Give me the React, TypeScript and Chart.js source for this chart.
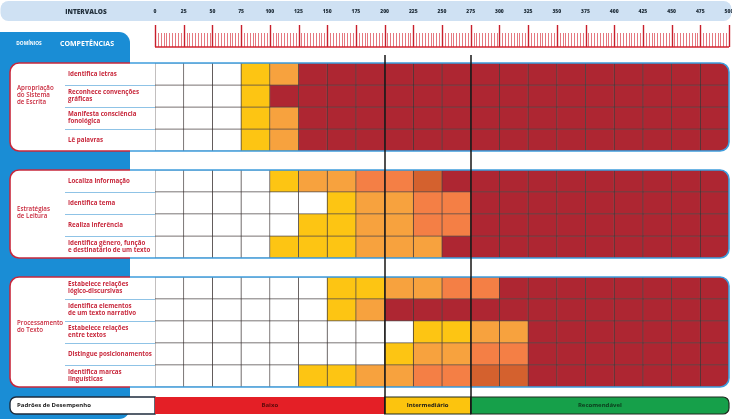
import React, { useEffect, useRef } from 'react';
import { Chart, registerables } from 'chart.js';

Chart.register(...registerables);

// ---------- DATA ----------
const intervalTicks = [0, 25, 50, 75, 100, 125, 150, 175, 200, 225, 250, 275, 300, 325, 350, 375, 400, 425, 450, 475, 500];
const intervalStep = 25;

const domainLabels: string[][] = [
  ['Apropriação', 'do Sistema', 'de Escrita'],
  ['Estratégias', 'de Leitura'],
  ['Processamento', 'do Texto'],
];

const competencias: string[][][] = [
  [['Identifica letras'], ['Reconhece convenções', 'gráficas'], ['Manifesta consciência', 'fonológica'], ['Lê palavras']],
  [['Localiza informação'], ['Identifica tema'], ['Realiza inferência'], ['Identifica gênero, função', 'e destinatário de um texto']],
  [
    ['Estabelece relações', 'lógico-discursivas'],
    ['Identifica elementos', 'de um texto narrativo'],
    ['Estabelece relações', 'entre textos'],
    ['Distingue posicionamentos'],
    ['Identifica marcas', 'linguísticas'],
  ],
];

// level per 25-point interval (0 = none ... 5 = full)
const levelsApropriacao: number[][] = [
  [0, 0, 0, 1, 2, 5, 5, 5, 5, 5, 5, 5, 5, 5, 5, 5, 5, 5, 5, 5],
  [0, 0, 0, 1, 5, 5, 5, 5, 5, 5, 5, 5, 5, 5, 5, 5, 5, 5, 5, 5],
  [0, 0, 0, 1, 2, 5, 5, 5, 5, 5, 5, 5, 5, 5, 5, 5, 5, 5, 5, 5],
  [0, 0, 0, 1, 2, 5, 5, 5, 5, 5, 5, 5, 5, 5, 5, 5, 5, 5, 5, 5],
];
const levelsLeitura: number[][] = [
  [0, 0, 0, 0, 1, 2, 2, 3, 3, 4, 5, 5, 5, 5, 5, 5, 5, 5, 5, 5],
  [0, 0, 0, 0, 0, 0, 1, 2, 2, 3, 3, 5, 5, 5, 5, 5, 5, 5, 5, 5],
  [0, 0, 0, 0, 0, 1, 1, 2, 2, 3, 3, 5, 5, 5, 5, 5, 5, 5, 5, 5],
  [0, 0, 0, 0, 1, 1, 1, 2, 2, 2, 5, 5, 5, 5, 5, 5, 5, 5, 5, 5],
];
const levelsProcessamento: number[][] = [
  [0, 0, 0, 0, 0, 0, 1, 1, 2, 2, 3, 3, 5, 5, 5, 5, 5, 5, 5, 5],
  [0, 0, 0, 0, 0, 0, 1, 2, 5, 5, 5, 5, 5, 5, 5, 5, 5, 5, 5, 5],
  [0, 0, 0, 0, 0, 0, 0, 0, 0, 1, 1, 2, 2, 5, 5, 5, 5, 5, 5, 5],
  [0, 0, 0, 0, 0, 0, 0, 0, 1, 2, 2, 3, 3, 5, 5, 5, 5, 5, 5, 5],
  [0, 0, 0, 0, 0, 1, 1, 2, 2, 3, 3, 4, 4, 5, 5, 5, 5, 5, 5, 5],
];
const sectionLevels = [levelsApropriacao, levelsLeitura, levelsProcessamento];

const padroesTitle = 'Padrões de Desempenho';
const padroes = [
  { label: 'Baixo', from: 0, to: 200 },
  { label: 'Intermediário', from: 200, to: 275 },
  { label: 'Recomendável', from: 275, to: 500 },
];

// ---------- STYLE ----------
const levelColors = ['#ffffff', '#fdc513', '#f7a23e', '#f47f45', '#d4612e', '#ae2632'];
const padroesColors = ['#e41f26', '#fcc40e', '#16a04a'];
const padroesText = ['#5a0a0a', '#1a1a1a', '#0d3a1c'];
const RED = '#c8283c';
const BLUE_PANEL = '#1a8dd5';
const FONT = '"Open Sans", "Noto Sans", sans-serif';
const SECTION_GAP = 0.86; // in row units
const DOMAIN_OFFSET = [-12, -1, -5];

// row positions derived from section structure
const rowPos: number[] = [];
const sectionRows: number[][] = [];
{
  let p = 0;
  sectionLevels.forEach((sec, si) => {
    if (si > 0) p += SECTION_GAP;
    const rows: number[] = [];
    sec.forEach(() => {
      rows.push(p);
      rowPos.push(p);
      p += 1;
    });
    sectionRows.push(rows);
  });
}
const yMin = -0.5;
const yMax = rowPos[rowPos.length - 1] + 0.5;
const allLevels = sectionLevels.flat();
const nCols = allLevels[0].length;

function rr(ctx: CanvasRenderingContext2D, x: number, y: number, w: number, h: number, r: number[]) {
  const [tl, tr, br, bl] = r;
  ctx.beginPath();
  ctx.moveTo(x + tl, y);
  ctx.lineTo(x + w - tr, y);
  if (tr) ctx.arcTo(x + w, y, x + w, y + tr, tr); else ctx.lineTo(x + w, y);
  ctx.lineTo(x + w, y + h - br);
  if (br) ctx.arcTo(x + w, y + h, x + w - br, y + h, br); else ctx.lineTo(x + w, y + h);
  ctx.lineTo(x + bl, y + h);
  if (bl) ctx.arcTo(x, y + h, x, y + h - bl, bl); else ctx.lineTo(x, y + h);
  ctx.lineTo(x, y + tl);
  if (tl) ctx.arcTo(x, y, x + tl, y, tl); else ctx.lineTo(x, y);
  ctx.closePath();
}

function sectionBoxes(chart: any) {
  const y = chart.scales.y;
  const x = chart.scales.x;
  const unit = Math.abs(y.getPixelForValue(1) - y.getPixelForValue(0));
  return sectionRows.map((rows) => {
    const top = y.getPixelForValue(rows[0]) - unit / 2;
    const bottom = y.getPixelForValue(rows[rows.length - 1]) + unit / 2;
    return { top, bottom, left: 10, right: x.getPixelForValue(500), unit };
  });
}

const decor = {
  id: 'decor',
  beforeDraw(chart: any) {
    const ctx: CanvasRenderingContext2D = chart.ctx;
    const x = chart.scales.x;
    const y = chart.scales.y;
    const W = chart.width;
    const H = chart.height;
    ctx.save();
    // header band
    rr(ctx, 0.5, 1, W - 1, 20, [8, 8, 8, 8]);
    ctx.fillStyle = '#cfe1f3';
    ctx.fill();
    ctx.fillStyle = '#22303c';
    ctx.textBaseline = 'middle';
    ctx.textAlign = 'center';
    ctx.font = `800 6.5px ${FONT}`;
    ctx.fillText('INTERVALOS', 86, 12);
    ctx.font = `800 5px ${FONT}`;
    intervalTicks.forEach((v) => ctx.fillText(String(v), x.getPixelForValue(v), 12));

    // ruler
    const x0 = x.getPixelForValue(intervalTicks[0]);
    const x1 = x.getPixelForValue(intervalTicks[intervalTicks.length - 1]);
    for (let v = intervalTicks[0]; v <= intervalTicks[intervalTicks.length - 1] + 0.001; v += intervalStep / 10) {
      const px = Math.round(x.getPixelForValue(v)) + 0.5;
      const major = Math.abs(v / intervalStep - Math.round(v / intervalStep)) < 0.001;
      ctx.lineWidth = major ? 1.4 : 0.8;
      ctx.strokeStyle = major ? '#c81e2b' : '#de5560';
      ctx.beginPath();
      ctx.moveTo(px, major ? 25 : 33);
      ctx.lineTo(px, 47);
      ctx.stroke();
    }
    ctx.strokeStyle = '#d2232f';
    ctx.lineWidth = 1.5;
    ctx.beginPath();
    ctx.moveTo(x0, 47);
    ctx.lineTo(x1, 47);
    ctx.stroke();

    // blue left panel
    rr(ctx, 0, 32, 130, H - 32, [0, 11, 11, 0]);
    ctx.fillStyle = BLUE_PANEL;
    ctx.fill();
    ctx.fillStyle = '#ffffff';
    ctx.font = `700 4.8px ${FONT}`;
    ctx.fillText('DOMÍNIOS', 29, 44);
    ctx.font = `700 7px ${FONT}`;
    ctx.fillText('COMPETÊNCIAS', 87, 44);

    // section white boxes
    const boxes = sectionBoxes(chart);
    boxes.forEach((b) => {
      rr(ctx, b.left, b.top, b.right - b.left, b.bottom - b.top, [9, 9, 9, 9]);
      ctx.fillStyle = '#ffffff';
      ctx.fill();
    });

    // labels
    boxes.forEach((b, si) => {
      const lines = domainLabels[si];
      const lh = 7;
      const cy = (b.top + b.bottom) / 2 + DOMAIN_OFFSET[si];
      ctx.fillStyle = RED;
      ctx.textAlign = 'left';
      ctx.font = `600 6.2px ${FONT}`;
      lines.forEach((l, i) => ctx.fillText(l, 17, cy + (i - (lines.length - 1) / 2) * lh));
      sectionRows[si].forEach((rp, ri) => {
        const ry = y.getPixelForValue(rp);
        const cl = competencias[si][ri];
        ctx.fillStyle = RED;
        ctx.font = `700 6.2px ${FONT}`;
        cl.forEach((l, i) => ctx.fillText(l, 68, ry + (i - (cl.length - 1) / 2) * 7.3));
        if (ri > 0) {
          const sy = Math.round(ry - b.unit / 2) + 0.5;
          ctx.strokeStyle = '#8fc3e6';
          ctx.lineWidth = 1;
          ctx.beginPath();
          ctx.moveTo(65, sy);
          ctx.lineTo(x0, sy);
          ctx.stroke();
        }
      });
    });
    ctx.restore();
  },
  beforeDatasetsDraw(chart: any) {
    const ctx: CanvasRenderingContext2D = chart.ctx;
    ctx.save();
    const boxes = sectionBoxes(chart);
    ctx.beginPath();
    boxes.forEach((b) => {
      const w = b.right - b.left;
      const h = b.bottom - b.top;
      const r = 9;
      ctx.moveTo(b.left + r, b.top);
      ctx.lineTo(b.left + w - r, b.top);
      ctx.arcTo(b.left + w, b.top, b.left + w, b.top + r, r);
      ctx.lineTo(b.left + w, b.top + h - r);
      ctx.arcTo(b.left + w, b.top + h, b.left + w - r, b.top + h, r);
      ctx.lineTo(b.left + r, b.top + h);
      ctx.arcTo(b.left, b.top + h, b.left, b.top + h - r, r);
      ctx.lineTo(b.left, b.top + r);
      ctx.arcTo(b.left, b.top, b.left + r, b.top, r);
      ctx.closePath();
    });
    ctx.clip();
  },
  afterDatasetsDraw(chart: any) {
    const ctx: CanvasRenderingContext2D = chart.ctx;
    ctx.restore();
    const x = chart.scales.x;
    const H = chart.height;
    const boxes = sectionBoxes(chart);
    ctx.save();
    boxes.forEach((b) => {
      ctx.save();
      ctx.beginPath();
      ctx.rect(130, 0, chart.width, H);
      ctx.clip();
      rr(ctx, b.left, b.top, b.right - b.left, b.bottom - b.top, [9, 9, 9, 9]);
      ctx.strokeStyle = '#3f9ddd';
      ctx.lineWidth = 1.6;
      ctx.stroke();
      ctx.restore();
      ctx.save();
      ctx.beginPath();
      ctx.rect(0, 0, 130, H);
      ctx.clip();
      rr(ctx, b.left, b.top, b.right - b.left, b.bottom - b.top, [9, 9, 9, 9]);
      ctx.strokeStyle = RED;
      ctx.lineWidth = 1.6;
      ctx.stroke();
      ctx.restore();
    });

    // legend (padrões de desempenho)
    const ly = 397;
    const lh = 17;
    const x0 = x.getPixelForValue(padroes[0].from);
    rr(ctx, 10, ly, x0 - 10, lh, [6, 0, 0, 6]);
    ctx.fillStyle = '#ffffff';
    ctx.fill();
    ctx.strokeStyle = '#1e2b3c';
    ctx.lineWidth = 1.4;
    ctx.stroke();
    ctx.fillStyle = '#1a1a1a';
    ctx.font = `700 6px ${FONT}`;
    ctx.textAlign = 'left';
    ctx.textBaseline = 'middle';
    ctx.fillText(padroesTitle, 17, ly + lh / 2);
    padroes.forEach((p, i) => {
      const a = x.getPixelForValue(p.from);
      const bx = x.getPixelForValue(p.to);
      const last = i === padroes.length - 1;
      rr(ctx, a, ly, bx - a, lh, last ? [0, 6, 6, 0] : [0, 0, 0, 0]);
      ctx.fillStyle = padroesColors[i];
      ctx.fill();
      if (i > 0) {
        ctx.strokeStyle = '#1e2b1e';
        ctx.lineWidth = 1.2;
        ctx.stroke();
      }
      ctx.fillStyle = padroesText[i];
      ctx.textAlign = 'center';
      ctx.font = `700 6px ${FONT}`;
      ctx.fillText(p.label, (a + bx) / 2, ly + lh / 2);
    });

    // vertical level separators
    ctx.strokeStyle = '#161616';
    ctx.lineWidth = 1.5;
    padroes.slice(1).forEach((p) => {
      const px = Math.round(x.getPixelForValue(p.from));
      ctx.beginPath();
      ctx.moveTo(px, 55);
      ctx.lineTo(px, ly + lh);
      ctx.stroke();
    });
    ctx.restore();
  },
};

export default function App() {
  const ref = useRef<HTMLCanvasElement | null>(null);
  useEffect(() => {
    if (!ref.current) return;
    const datasets = Array.from({ length: nCols }, (_, k) => ({
      label: `${intervalTicks[k]}-${intervalTicks[k + 1]}`,
      data: rowPos.map((rp) => ({ x: intervalStep, y: rp })),
      backgroundColor: allLevels.map((row) => levelColors[row[k]]),
      borderColor: 'rgba(25,15,15,0.72)',
      borderWidth: 0.7,
      borderSkipped: false as const,
      barPercentage: 1,
      categoryPercentage: 1,
    }));
    const chart = new Chart(ref.current, {
      type: 'bar',
      data: { datasets: datasets as any },
      options: {
        animation: false,
        responsive: false,
        indexAxis: 'y',
        layout: { padding: { left: 155, right: 3, top: 63, bottom: 32 } },
        scales: {
          x: { type: 'linear', min: 0, max: 500, stacked: true, display: false, offset: false },
          y: {
            type: 'linear',
            min: yMin,
            max: yMax,
            reverse: true,
            stacked: true,
            display: false,
            offset: false,
            afterBuildTicks: (s: any) => {
              s.ticks = rowPos.map((v) => ({ value: v }));
            },
          },
        },
        plugins: { legend: { display: false }, tooltip: { enabled: false } },
      } as any,
      plugins: [decor],
    });
    return () => chart.destroy();
  }, []);
  return (
    <div style={{ position: 'fixed', left: 0, top: 0, width: 732, height: 419, background: '#ffffff' }}>
      <canvas ref={ref} width={732} height={419} style={{ display: 'block' }} />
    </div>
  );
}
